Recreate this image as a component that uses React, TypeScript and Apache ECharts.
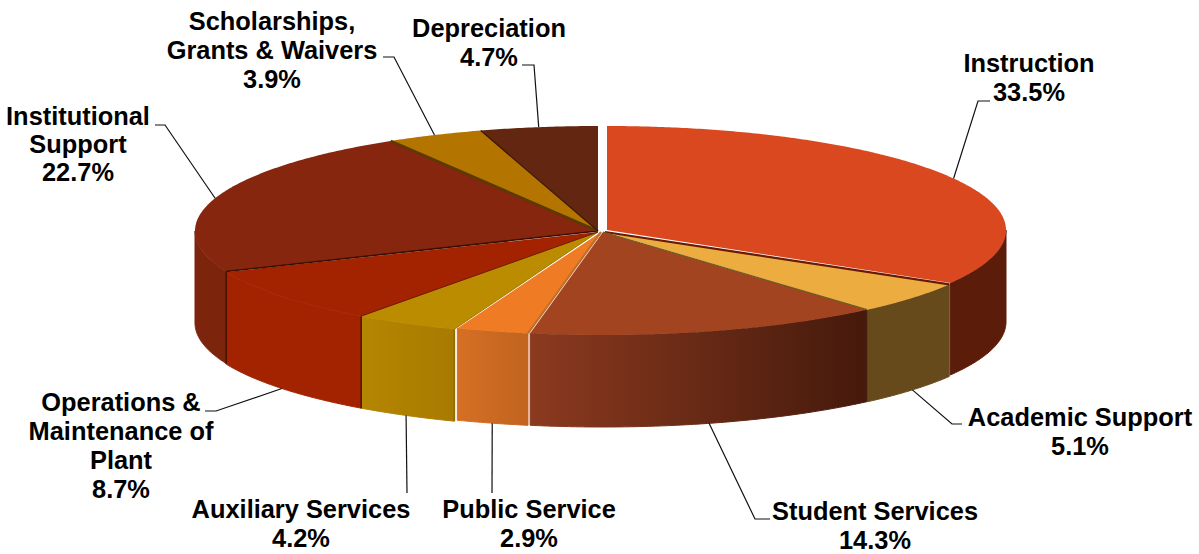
import React, { useEffect, useRef } from "react";
import * as echarts from "echarts";

const categories = [
  "Instruction",
  "Academic Support",
  "Student Services",
  "Public Service",
  "Auxiliary Services",
  "Operations &\nMaintenance of\nPlant",
  "Institutional\nSupport",
  "Scholarships,\nGrants & Waivers",
  "Depreciation",
];
const shares = [33.5, 5.1, 14.3, 2.9, 4.2, 8.7, 22.7, 3.9, 4.7];

const topColors = ["#D9481F", "#ECAC3F", "#A34421", "#EF7C25", "#BC8C00", "#A32300", "#86260E", "#B37400", "#632610"];
const wallLeft = ["#5C1C0A", "#664A1B", "#8B3A1F", "#D56F24", "#B58600", "#A32300", "#7D240D", "#7D5000", "#451A0D"];
const wallRight = ["#5C1C0A", "#664A1B", "#45190C", "#C2631F", "#A87A00", "#A32300", "#7D240D", "#7D5000", "#451A0D"];
const radialEdge: (string | null)[] = [null, "#6A1A05", "#6B5A22", "#C16F27", "#A07C00", "#6A1800", "#3A0E00", "#5A3A00", "#3C1608"];
const radialWidth = [0, 2.2, 1.2, 2.2, 1, 1, 1.6, 2.6, 1.2];
const wallEdge: (string | null)[] = [null, null, null, null, "#8C6D00", "#5A1600", "#4A1200", null, null];

// Each slice sits a little apart from the others in the source picture.
const sliceFrames = [
  { cx: 607, cy: 230, rx: 399, ry: 104 },
  { cx: 605, cy: 232, rx: 400, ry: 103 },
  { cx: 603, cy: 232, rx: 402, ry: 103 },
  { cx: 601, cy: 232, rx: 403, ry: 103 },
  { cx: 598, cy: 232, rx: 403, ry: 104 },
  { cx: 598, cy: 232, rx: 403, ry: 104 },
  { cx: 598, cy: 231, rx: 403, ry: 105 },
  { cx: 598, cy: 231, rx: 403, ry: 105 },
  { cx: 598, cy: 231, rx: 403, ry: 105 },
];
const wallDepth = 92;

const labelCentres = [
  [1029, 48], [1080, 402], [875, 496], [529, 494], [301, 494], [121, 387], [78, 102], [272, 6], [489, 13],
];
const labelLineHeights = [29, 29, 29, 29, 29, 29, 28, 29, 29];
// Elbow and end of each leader line, leading from the slice's rim to its label.
const leaderBends = [
  [[978, 101], [990, 101]],
  [[952, 424], [962, 424]],
  [[755, 519], [770, 519]],
  [[492, 493]],
  [[407, 493]],
  [[216, 411], [205, 411]],
  [[165, 125], [155, 125]],
  [[394, 57], [383, 57]],
  [[534, 65], [522, 65]],
];

const total = shares.reduce((a, b) => a + b, 0);
const starts: number[] = [];
shares.reduce((acc, v, i) => {
  starts[i] = (acc / total) * 360;
  return acc + v;
}, 0);

const rim = (i: number, a: number, drop = 0): number[] => {
  const f = sliceFrames[i];
  const r = (a * Math.PI) / 180;
  return [f.cx + f.rx * Math.sin(r), f.cy - f.ry * Math.cos(r) + drop];
};
const arc = (i: number, a0: number, a1: number, drop = 0): number[][] => {
  const pts: number[][] = [];
  const n = Math.max(2, Math.ceil(Math.abs(a1 - a0) * 2));
  for (let k = 0; k <= n; k++) pts.push(rim(i, a0 + ((a1 - a0) * k) / n, drop));
  return pts;
};
const endOf = (i: number) => starts[i] + (shares[i] / total) * 360;

const renderWall = (params: any) => {
  const i = params.dataIndex;
  const a0 = Math.max(starts[i], 90);
  const a1 = Math.min(endOf(i), 270);
  if (a1 <= a0) return { type: "group", children: [] };
  const points = [...arc(i, a0, a1), ...arc(i, a1, a0, wallDepth)];
  const fill = new echarts.graphic.LinearGradient(0, 0, 1, 0, [
    { offset: 0, color: wallLeft[i] },
    { offset: 1, color: wallRight[i] },
  ]);
  const children: any[] = [
    {
      type: "polygon",
      shape: { points },
      style: { fill, stroke: fill, lineWidth: 1 },
    },
  ];
  if (wallEdge[i]) {
    const p = rim(i, starts[i]);
    children.push({
      type: "line",
      shape: { x1: p[0], y1: p[1], x2: p[0], y2: p[1] + wallDepth },
      style: { stroke: wallEdge[i], lineWidth: 1.6 },
    });
  }
  return { type: "group", children };
};

const renderTop = (params: any) => {
  const i = params.dataIndex;
  const f = sliceFrames[i];
  const a0 = starts[i];
  const a1 = endOf(i);
  const children: any[] = [
    {
      type: "polygon",
      shape: { points: [[f.cx, f.cy], ...arc(i, a0, a1)] },
      style: { fill: topColors[i] },
    },
  ];
  if (radialEdge[i]) {
    const p = rim(i, a0);
    children.push({
      type: "line",
      shape: { x1: f.cx, y1: f.cy, x2: p[0], y2: p[1] },
      style: { stroke: radialEdge[i], lineWidth: radialWidth[i] },
    });
  }
  return { type: "group", children };
};

const renderLabel = (params: any) => {
  const i = params.dataIndex;
  const mid = (starts[i] + endOf(i)) / 2;
  const front = mid > 90 && mid < 270;
  const from = rim(i, mid, front ? wallDepth : 0);
  const [lx, ly] = labelCentres[i];
  return {
    type: "group",
    children: [
      {
        type: "polyline",
        shape: { points: [from, ...leaderBends[i]] },
        style: { fill: "none", stroke: "#111111", lineWidth: 1.2 },
      },
      {
        type: "text",
        x: lx,
        y: ly,
        style: {
          text: `${categories[i]}\n${shares[i].toFixed(1)}%`,
          fill: "#000000",
          font: "bold 25.4px 'Liberation Sans', Arial, sans-serif",
          lineHeight: labelLineHeights[i],
          align: "center",
          verticalAlign: "top",
        },
      },
    ],
  };
};

export default function App() {
  const ref = useRef<HTMLDivElement>(null);
  useEffect(() => {
    document.body.style.margin = "0";
    const chart = echarts.init(ref.current!, undefined, { renderer: "svg" });
    const data = shares.map((v, i) => ({ name: categories[i], value: v }));
    chart.setOption({
      animation: false,
      backgroundColor: "#ffffff",
      tooltip: { show: false },
      series: [
        { type: "custom", coordinateSystem: "none", z: 1, silent: true, data, renderItem: renderWall },
        { type: "custom", coordinateSystem: "none", z: 2, silent: true, data, renderItem: renderTop },
        { type: "custom", coordinateSystem: "none", z: 3, silent: true, data, renderItem: renderLabel },
      ],
    });
    return () => chart.dispose();
  }, []);
  return <div ref={ref} style={{ width: 1199, height: 554 }} />;
}
